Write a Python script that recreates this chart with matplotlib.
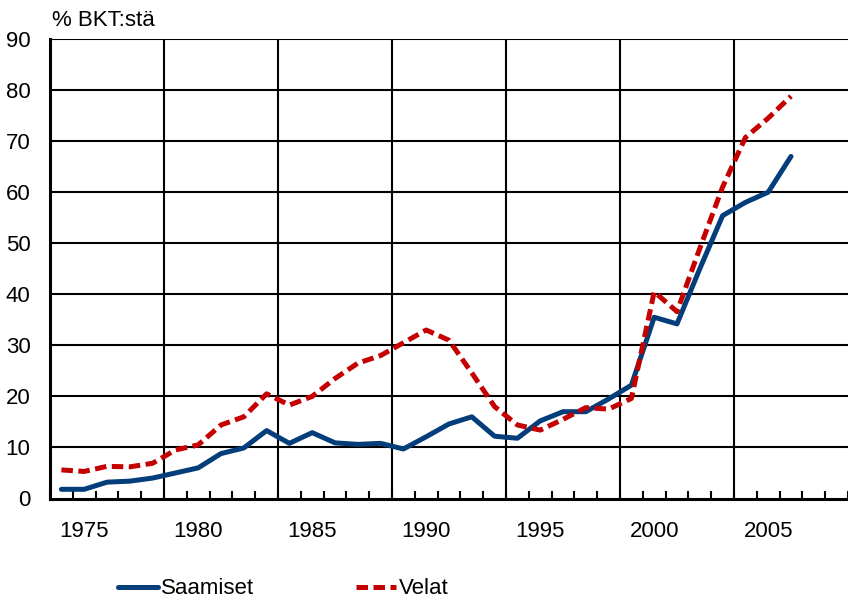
import numpy as np
import matplotlib
matplotlib.use("Agg")
import matplotlib.pyplot as plt

# -----------------------------------
# Data (% of GDP)
# -----------------------------------

years = list(range(1974, 2007))

saamiset = [1.8, 1.8, 3.2, 3.4, 4.0, 5.0, 6.0, 8.8, 9.9, 13.3,
            10.8, 12.9, 10.9, 10.6, 10.8, 9.7, 12.1, 14.6, 16.0, 12.2,
            11.8, 15.2, 17.0, 17.0, 19.5, 22.2, 35.5, 34.2, 45.0, 55.4,
            58.0, 60.0, 67.0]

velat = [5.6, 5.3, 6.3, 6.2, 6.9, 9.5, 10.5, 14.4, 16.0, 20.5,
         18.3, 20.0, 23.5, 26.5, 28.0, 30.5, 33.0, 31.0, 24.6, 18.0,
         14.4, 13.4, 15.5, 17.8, 17.5, 19.6, 40.5, 36.6, 49.0, 61.0,
         70.7, 74.5, 78.8]

label_years = [1975, 1980, 1985, 1990, 1995, 2000, 2005]
y_ticks = [0, 10, 20, 30, 40, 50, 60, 70, 80, 90]

# -----------------------------------
# Figure
# -----------------------------------

plt.rcParams["font.family"] = ["Liberation Sans", "DejaVu Sans"]

fig = plt.figure(figsize=(8.48, 6.03), dpi=100)
ax = fig.add_axes([50 / 848, 1 - 498.5 / 603, 1 - 50 / 848, (498.5 - 39) / 603])

blue = "#043E7A"
red = "#C40000"

ax.plot(years, saamiset, color=blue, lw=3.6, solid_capstyle="round",
        solid_joinstyle="round", label="Saamiset", zorder=3)
ax.plot(years, velat, color=red, lw=3.6, dashes=(2.3, 1.1),
        dash_capstyle="butt", label="Velat", zorder=3)

ax.set_xlim(1973.5, 2008.35)
ax.set_ylim(0, 90)

# grid
for yv in y_ticks[1:]:
    ax.axhline(yv, color="black", lw=1.5, zorder=1)
for xv in np.arange(1978.5, 2008, 5):
    ax.axvline(xv, color="black", lw=1.5, zorder=1)

ax.set_yticks(y_ticks)
ax.tick_params(axis="y", length=0, pad=14, labelsize=16)

ax.set_xticks(label_years)
ax.tick_params(axis="x", which="major", length=0, pad=16, labelsize=16)
ax.set_xticks(np.arange(1973.5, 2009, 1), minor=True)
ax.tick_params(axis="x", which="minor", direction="in", length=6, width=1.5)

for s in ["top", "right"]:
    ax.spines[s].set_visible(False)
ax.spines["left"].set_linewidth(2.2)
ax.spines["bottom"].set_linewidth(2.2)

fig.text(52 / 848, 1 - 20 / 603, "% BKT:stä", fontsize=16, va="center", ha="left")

fig.legend(loc="center left", bbox_to_anchor=(118 / 848, 1 - 589 / 603),
           ncol=2, frameon=False, fontsize=16, handlelength=1.8,
           handletextpad=0.15, columnspacing=4.55, borderpad=0,
           borderaxespad=0)

fig.savefig("out.png", dpi=100)
